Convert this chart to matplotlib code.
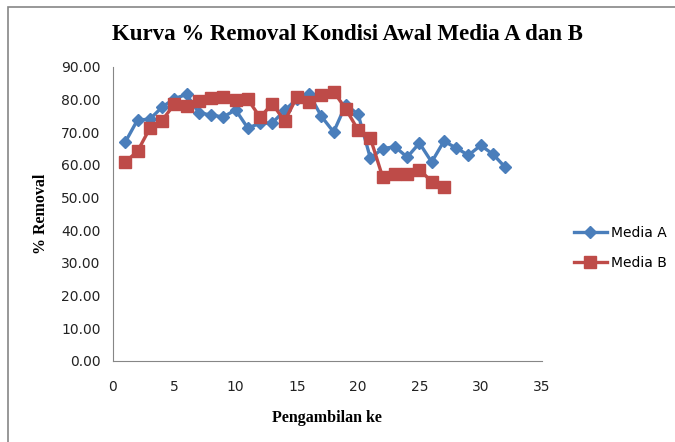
import matplotlib.pyplot as plt
from matplotlib.patches import Rectangle

pengambilan_a = list(range(1, 33))
removal_a = [67.0, 73.8, 74.0, 77.7, 80.3, 81.6, 76.0, 75.3, 74.7, 76.9, 71.3, 72.8,
             72.9, 76.7, 80.2, 81.8, 74.9, 70.1, 78.5, 75.5, 62.1, 65.0, 65.6, 62.4,
             66.7, 60.9, 67.3, 65.2, 63.0, 66.0, 63.3, 59.3]

pengambilan_b = list(range(1, 28))
removal_b = [60.9, 64.2, 71.2, 73.6, 78.6, 78.0, 79.6, 80.6, 80.9, 79.9, 80.1, 74.6,
             78.8, 73.4, 80.8, 79.4, 81.3, 82.5, 77.1, 70.7, 68.2, 56.3, 57.2, 57.3,
             58.6, 54.9, 53.4]

blue = '#4A7EBB'
red = '#BE4B48'
grey = '#868686'

fig = plt.figure(figsize=(6.75, 4.42), dpi=100)
fig.patches.append(Rectangle((8 / 675, -0.05), 1.1, 1 - 7 / 442 + 0.05,
                             transform=fig.transFigure, fill=False,
                             edgecolor=grey, lw=1.2))

ax = fig.add_axes([113 / 675, 1 - 361 / 442, 429 / 675, 294 / 442])
ax.plot(pengambilan_a, removal_a, '-D', color=blue, lw=2.4, ms=6.5,
        label='Media A')
ax.plot(pengambilan_b, removal_b, '-s', color=red, lw=2.4, ms=8.5,
        label='Media B')

ax.set_xlim(0, 35)
ax.set_ylim(0, 90)
ax.set_xticks(range(0, 36, 5))
ax.set_yticks(range(0, 91, 10))
ax.set_yticklabels([f'{v:.2f}' for v in range(0, 91, 10)])
ax.tick_params(length=0, labelsize=10, colors='#222222', pad=9)
ax.tick_params(axis='x', pad=14)
for s in ['top', 'right']:
    ax.spines[s].set_visible(False)
for s in ['left', 'bottom']:
    ax.spines[s].set_color(grey)

fig.text(347 / 675, 1 - 35 / 442, 'Kurva % Removal Kondisi Awal Media A dan B',
         ha='center', va='center', fontsize=16.5, fontweight='bold',
         family='Liberation Serif')
fig.text(327 / 675, 1 - 418 / 442, 'Pengambilan ke', ha='center', va='center',
         fontsize=11.5, fontweight='bold', family='Liberation Serif')
fig.text(41 / 675, 1 - 214 / 442, '% Removal', ha='center', va='center',
         rotation=90, fontsize=11.5, fontweight='bold', family='Liberation Serif')

leg = ax.legend(loc='center left', bbox_to_anchor=(1.045, 0.385), frameon=False,
                fontsize=10, handlelength=2.4, labelspacing=1.15, handletextpad=0.3)

fig.savefig('out.png', dpi=100)
